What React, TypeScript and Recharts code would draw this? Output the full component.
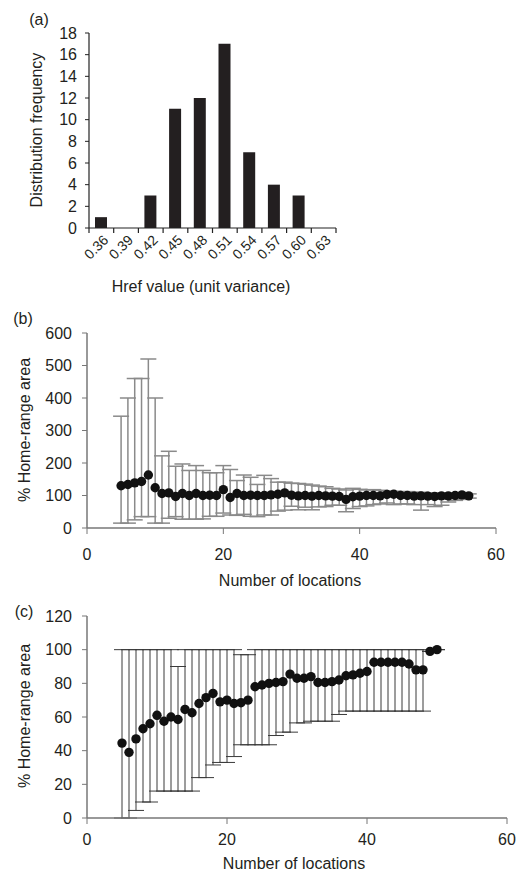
import React from "react"
import { BarChart, Bar, XAxis, YAxis, ScatterChart, Scatter, ErrorBar } from "recharts"

// (a) histogram of href values
const hrefBins = ["0.36", "0.39", "0.42", "0.45", "0.48", "0.51", "0.54", "0.57", "0.60", "0.63"]
const hrefFreq = [1, 0, 3, 11, 12, 17, 7, 4, 3, 0]
const freqTicks = [0, 2, 4, 6, 8, 10, 12, 14, 16, 18]

// (b) % home-range area vs number of locations
const bLocations = [5, 6, 7, 8, 9, 10, 11, 12, 13, 14, 15, 16, 17, 18, 19, 20, 21, 22, 23, 24, 25, 26, 27, 28, 29, 30,
  31, 32, 33, 34, 35, 36, 37, 38, 39, 40, 41, 42, 43, 44, 45, 46, 47, 48, 49, 50, 51, 52, 53, 54, 55, 56]
const bMean = [130, 134, 139, 143, 163, 124, 106, 108, 97, 106, 100, 106, 100, 101, 100, 118, 94, 106, 100, 101, 100, 100,
  102, 104, 108, 101, 99, 100, 98, 100, 99, 98, 97, 88, 96, 98, 100, 100, 99, 103, 104, 100, 100, 98, 99, 98, 97, 99, 99,
  100, 102, 99]
const bLow = [15, 15, 25, 35, 35, 15, 15, 30, 35, 27, 27, 27, 28, 36, 36, 46, 40, 39, 42, 36, 35, 40, 40, 52, 55, 67, 56,
  64, 56, 65, 66, 70, 70, 50, 60, 66, 68, 72, 74, 77, 72, 74, 74, 72, 55, 72, 66, 70, 80, 85, 88, 92]
const bHigh = [344, 400, 460, 460, 520, 400, 222, 236, 190, 197, 177, 192, 177, 170, 170, 192, 180, 146, 163, 156, 134,
  162, 152, 141, 141, 138, 137, 135, 132, 129, 127, 122, 120, 117, 122, 119, 117, 118, 116, 114, 113, 112, 112, 110, 110,
  108, 108, 107, 106, 106, 107, 105]
const bTicks = [0, 100, 200, 300, 400, 500, 600]

// (c) same measure, second data set
const cLocations = [5, 6, 7, 8, 9, 10, 11, 12, 13, 14, 15, 16, 17, 18, 19, 20, 21, 22, 23, 24, 25, 26, 27, 28, 29, 30,
  31, 32, 33, 34, 35, 36, 37, 38, 39, 40, 41, 42, 43, 44, 45, 46, 47, 48, 49, 50]
const cMean = [44.5, 39, 47, 53, 56, 61, 57.5, 60, 58.5, 64.5, 62.5, 68, 71.5, 74, 69, 70, 68, 68.5, 70, 78, 79, 80, 80.5,
  81, 85.5, 83, 83, 84, 80.5, 80.5, 81, 82, 84.5, 85, 86, 87, 92.5, 92.5, 92.5, 92.5, 92.5, 91.5, 88, 88, 99, 100]
const cLow = [0, 0, 4.5, 9.5, 9.5, 16, 16, 16, 16, 16, 16, 24, 24, 31.5, 33, 33, 36.5, 43.5, 43.5, 43.5, 43.5, 43.5, 49,
  51, 51, 56.5, 56.5, 57.5, 57.5, 57.5, 57.5, 61.5, 63.5, 63.5, 63.5, 63.5, 63.5, 63.5, 63.5, 63.5, 63.5, 63.5, 63.5, 63.5,
  99, 100]
const cHigh = [100, 100, 100, 100, 100, 100, 100, 100, 90, 100, 100, 100, 100, 100, 100, 100, 100, 97, 97, 100, 100, 100,
  100, 100, 100, 100, 100, 100, 100, 100, 100, 100, 100, 100, 100, 100, 100, 100, 100, 100, 100, 100, 100, 100, 99, 100]
const cTicks = [0, 20, 40, 60, 80, 100, 120]

const locTicks = [0, 20, 40, 60]

const FONT = "'Liberation Sans', Arial, sans-serif"
const INK = "#231f20"
const A_PLOT_W = 247

const histData = hrefBins.map((bin, i) => ({ bin, freq: hrefFreq[i] }))
const bData = bLocations.map((n, i) => ({ n, v: bMean[i], err: [bMean[i] - bLow[i], bHigh[i] - bMean[i]] }))
const cData = cLocations.map((n, i) => ({ n, v: cMean[i], err: [cMean[i] - cLow[i], cHigh[i] - cMean[i]] }))

// excel style: tick marks between the bins, labels slanted under the bin
function HrefTick(props: any) {
  const { x, y, payload, index } = props
  const half = A_PLOT_W / hrefBins.length / 2
  const tx = x + 8
  const ty = y + 13
  return (
    <g>
      <line x1={x - half} y1={y} x2={x - half} y2={y + 5} stroke="#222" strokeWidth={1.2} />
      {index === hrefBins.length - 1 && (
        <line x1={x + half} y1={y} x2={x + half} y2={y + 5} stroke="#222" strokeWidth={1.2} />
      )}
      <text x={tx} y={ty} textAnchor="end" transform={`rotate(-45, ${tx}, ${ty})`} fontSize={14} fill={INK}>
        {payload.value}
      </text>
    </g>
  )
}

const dot = (p: any) => <circle cx={p.cx} cy={p.cy} r={4.7} fill="#111" />

function Caption({ x, y, text, rotate = 0 }: { x: number; y: number; text: string; rotate?: number }) {
  return (
    <div
      style={{
        position: "absolute",
        left: x,
        top: y,
        transform: `translate(-50%, -50%) rotate(${rotate}deg)`,
        whiteSpace: "nowrap",
        fontSize: 16,
        lineHeight: 1,
        color: INK,
      }}
    >
      {text}
    </div>
  )
}

const tickStyle = { fontSize: 16, fill: INK }

export default function App() {
  return (
    <div style={{ position: "absolute", left: 0, top: 0, width: 520, height: 873, background: "#fff", fontFamily: FONT }}>
      <div style={{ position: "absolute", left: 0, top: 0 }}>
        <BarChart width={350} height={300} data={histData} margin={{ top: 33, right: 14, bottom: 22, left: 0 }}>
          <XAxis dataKey="bin" height={50} interval={0} tickLine={false} tickSize={0} tickMargin={0}
            tick={<HrefTick />} axisLine={{ stroke: "#222", strokeWidth: 1.2 }} />
          <YAxis type="number" domain={[0, 18]} ticks={freqTicks} interval={0} width={89} tickSize={4} tickMargin={8}
            tick={tickStyle} axisLine={{ stroke: "#222", strokeWidth: 1.2 }} tickLine={{ stroke: "#222" }} />
          <Bar dataKey="freq" fill={INK} barSize={12} isAnimationActive={false} />
        </BarChart>
      </div>

      <div style={{ position: "absolute", left: 0, top: 300 }}>
        <ScatterChart width={520} height={280} margin={{ top: 33, right: 24, bottom: 22, left: 0 }}>
          <XAxis type="number" dataKey="n" domain={[0, 60]} ticks={locTicks} interval={0} height={30} tickSize={6}
            tickMargin={15} tick={tickStyle} axisLine={{ stroke: "#777", strokeWidth: 1.5 }} tickLine={{ stroke: "#777" }} />
          <YAxis type="number" dataKey="v" domain={[0, 600]} ticks={bTicks} interval={0} width={87} tickSize={5}
            tickMargin={10} tick={tickStyle} axisLine={{ stroke: "#777", strokeWidth: 1.5 }} tickLine={{ stroke: "#777" }} />
          <Scatter data={bData} shape={dot} isAnimationActive={false}>
            <ErrorBar dataKey="err" direction="y" width={8} stroke="#8a8a8a" strokeWidth={1.5} isAnimationActive={false} />
          </Scatter>
        </ScatterChart>
      </div>

      <div style={{ position: "absolute", left: 0, top: 590 }}>
        <ScatterChart width={520} height={283} margin={{ top: 26, right: 13, bottom: 25, left: 0 }}>
          <XAxis type="number" dataKey="n" domain={[0, 60]} ticks={locTicks} interval={0} height={30} tickSize={6}
            tickMargin={10} tick={tickStyle} axisLine={{ stroke: "#777", strokeWidth: 1.5 }} tickLine={{ stroke: "#777" }} />
          <YAxis type="number" dataKey="v" domain={[0, 120]} ticks={cTicks} interval={0} width={87} tickSize={5}
            tickMargin={10} tick={tickStyle} axisLine={{ stroke: "#777", strokeWidth: 1.5 }} tickLine={{ stroke: "#777" }} />
          <Scatter data={cData} shape={dot} isAnimationActive={false}>
            <ErrorBar dataKey="err" direction="y" width={8} stroke="#3a3a3a" strokeWidth={1} isAnimationActive={false} />
          </Scatter>
        </ScatterChart>
      </div>

      <Caption x={39} y={20} text="(a)" />
      <Caption x={37} y={130} text="Distribution frequency" rotate={-90} />
      <Caption x={201} y={287} text="Href value (unit variance)" />

      <Caption x={23} y={319} text="(b)" />
      <Caption x={25} y={430} text="% Home-range area" rotate={-90} />
      <Caption x={290} y={581} text="Number of locations" />

      <Caption x={24} y={612} text="(c)" />
      <Caption x={25} y={716} text="% Home-range area" rotate={-90} />
      <Caption x={294} y={864} text="Number of locations" />
    </div>
  )
}
